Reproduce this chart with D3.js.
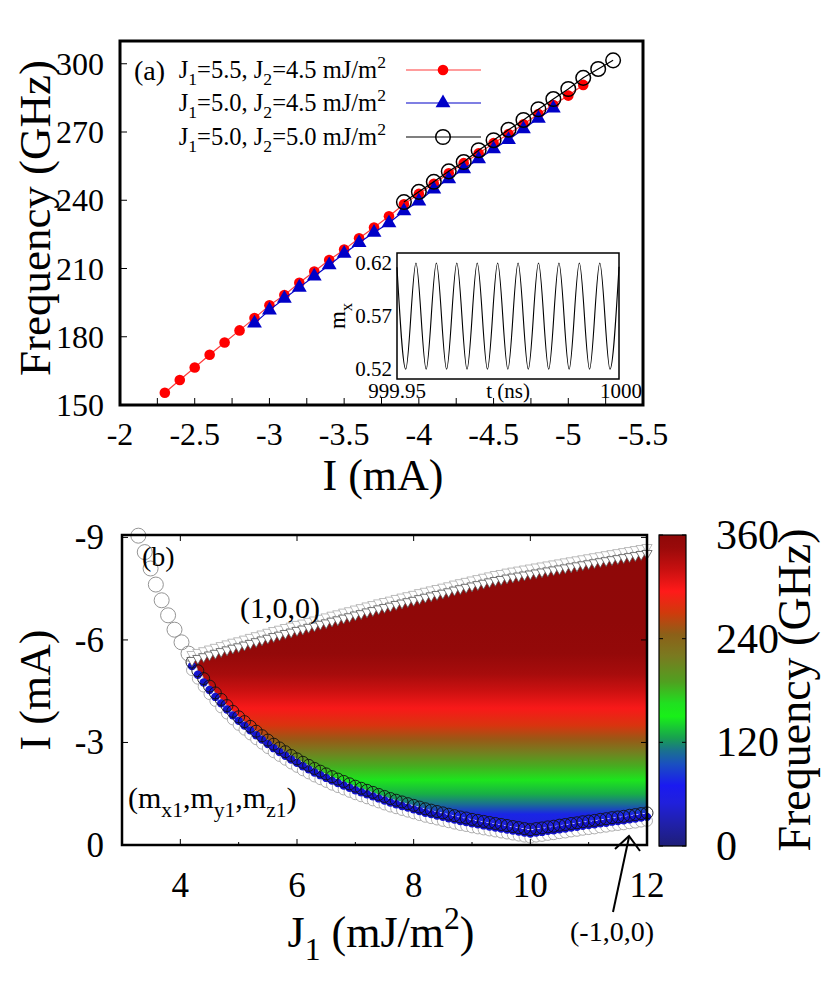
<!DOCTYPE html>
<html><head><meta charset="utf-8">
<script src="https://cdn.jsdelivr.net/npm/d3@7"></script>
<style>body{margin:0;background:#fff}svg{display:block}text{font-family:"Liberation Serif","Times New Roman",serif;fill:#000}</style>
</head><body><svg id="c" width="830" height="995"></svg>
<script>
// ---------- Panel (a) data ----------
const redI = [-2.3,-2.4,-2.5,-2.6,-2.7,-2.8,-2.9,-3.0,-3.1,-3.2,-3.3,-3.4,-3.5,-3.6,-3.7,-3.8,-3.9,-4.0,-4.1,-4.2,-4.3,-4.4,-4.5,-4.6,-4.7,-4.8,-4.9,-5.0,-5.1];
const redF = [155.4,161.0,166.5,172.1,177.5,182.8,188.2,193.8,198.3,203.7,208.7,213.7,218.3,223.3,228.0,233.0,238.2,242.8,247.2,251.9,256.3,260.6,265.1,269.1,273.4,277.9,281.9,286.0,290.7];
const blueI = [-2.9,-3.0,-3.1,-3.2,-3.3,-3.4,-3.5,-3.6,-3.7,-3.8,-3.9,-4.0,-4.1,-4.2,-4.3,-4.4,-4.5,-4.6,-4.7,-4.8,-4.9];
const blueF = [185.9,191.7,196.8,201.7,206.6,211.5,216.6,221.3,225.8,230.0,235.3,239.6,244.9,249.3,253.7,258.1,262.5,266.6,271.3,276.0,280.4];
const blackI = [-3.9,-4.0,-4.1,-4.2,-4.3,-4.4,-4.5,-4.6,-4.7,-4.8,-4.9,-5.0,-5.1,-5.2,-5.3];
const blackF = [239.2,243.7,248.1,252.7,256.8,262.0,266.4,271.0,275.3,280.0,284.5,288.9,293.8,297.7,301.5];
const xTicksA = [-2,-2.25,-2.5,-2.75,-3,-3.25,-3.5,-3.75,-4,-4.25,-4.5,-4.75,-5,-5.25,-5.5];
const xLabelsA = ["-2","-2.5","-3","-3.5","-4","-4.5","-5","-5.5"];
const yLabelsA = [150,180,210,240,270,300];
// inset: time offset (ps after 999.95 ns) and m_x
const insetT = [0,1.97,4.27,6.57,8.87,11.17,13.47,15.77,18.07,20.37,22.67,24.97,27.27,29.57,31.87,34.17,36.47,38.77,41.07,43.37,45.67,47.97,50];
const insetM = [0.616,0.52,0.62,0.52,0.62,0.52,0.62,0.52,0.62,0.52,0.62,0.52,0.62,0.52,0.62,0.52,0.62,0.52,0.62,0.52,0.62,0.52,0.6165];
const insetYLabels = ["0.52","0.57","0.62"];
const insetXLabels = ["999.95","1000"];

// ---------- Panel (b) data ----------
const bJ = [4.2,4.3,4.4,4.5,4.6,4.7,4.8,4.9,5.0,5.1,5.2,5.3,5.4,5.5,5.6,5.7,5.8,5.9,6.0,6.1,6.2,6.3,6.4,6.5,6.6,6.7,6.8,6.9,7.0,7.1,7.2,7.3,7.4,7.5,7.6,7.7,7.8,7.9,8.0,8.1,8.2,8.3,8.4,8.5,8.6,8.7,8.8,8.9,9.0,9.1,9.2,9.3,9.4,9.5,9.6,9.7,9.8,9.9,10.0,10.1,10.2,10.3,10.4,10.5,10.6,10.7,10.8,10.9,11.0,11.1,11.2,11.3,11.4,11.5,11.6,11.7,11.8,11.9,12.0];
const lowerI = [-5.35,-5.1,-4.87,-4.65,-4.45,-4.26,-4.08,-3.91,-3.75,-3.61,-3.47,-3.33,-3.20,-3.07,-2.95,-2.84,-2.73,-2.62,-2.52,-2.42,-2.33,-2.24,-2.16,-2.08,-2.00,-1.93,-1.86,-1.79,-1.72,-1.66,-1.60,-1.54,-1.48,-1.42,-1.36,-1.31,-1.26,-1.21,-1.16,-1.11,-1.06,-1.02,-0.98,-0.94,-0.90,-0.86,-0.82,-0.79,-0.75,-0.72,-0.69,-0.66,-0.63,-0.60,-0.57,-0.54,-0.51,-0.48,-0.45,-0.48,-0.50,-0.53,-0.55,-0.58,-0.60,-0.63,-0.65,-0.68,-0.70,-0.72,-0.75,-0.77,-0.80,-0.82,-0.84,-0.87,-0.89,-0.92,-0.94];
const upperI = [-5.40,-5.46,-5.51,-5.56,-5.61,-5.66,-5.71,-5.76,-5.80,-5.85,-5.90,-5.95,-6.00,-6.05,-6.10,-6.14,-6.19,-6.23,-6.28,-6.32,-6.37,-6.41,-6.46,-6.50,-6.55,-6.59,-6.64,-6.68,-6.73,-6.77,-6.82,-6.86,-6.91,-6.95,-6.99,-7.04,-7.08,-7.12,-7.16,-7.21,-7.25,-7.29,-7.33,-7.37,-7.41,-7.46,-7.50,-7.54,-7.58,-7.62,-7.66,-7.70,-7.74,-7.77,-7.81,-7.84,-7.87,-7.90,-7.93,-7.96,-7.99,-8.02,-8.05,-8.08,-8.11,-8.14,-8.17,-8.20,-8.23,-8.26,-8.29,-8.32,-8.35,-8.38,-8.41,-8.44,-8.47,-8.50,-8.53];
const chainJ = [3.28,3.39,3.49,3.58,3.68,3.79,3.90,4.02,4.14];
const chainI = [-9.05,-8.57,-8.09,-7.62,-7.16,-6.72,-6.30,-5.93,-5.60];
const heatI = [-9.07,-6.5,-5.6,-5.0,-4.5,-4.0,-3.5,-3.1,-2.7,-2.3,-1.9,-1.5,-1.2,-0.9,-0.5,0];
const heatF = [360,358,352,338,318,298,275,250,215,185,160,130,110,75,50,30];
// colour palette
const cmapV = [0,25,50,70,95,110,125,150,165,190,220,245,270,295,320,345,360];
const cmapC = ["#1e1e78","#2020a8","#2020dc","#1a1af0","#1a50c0","#1a7090","#18a050","#18f018","#20e020","#50a020","#7a7a20","#8c6018","#d03a0c","#ff1a1a","#c81010","#9a0a0a","#8e0808"];
const xTicksB = [4,6,8,10,12];
const xMinorB = [3,5,7,9,11];
const yTicksB = [0,-3,-6,-9];
const cbTicks = [0,120,240,360];

const svg = d3.select("#c");
function rich(g, x, y, parts, fs, anchor, rot){
  const t = g.append("text").attr("x",x).attr("y",y).attr("font-size",fs).attr("text-anchor",anchor||"start");
  if(rot) t.attr("transform",`rotate(${rot},${x},${y})`);
  let cur=0;
  parts.forEach(p=>{
    const s=p[0], m=p[1];
    const target = m==="sub"?0.3*fs:(m==="sup"?-0.4*fs:0);
    const ts=t.append("tspan").text(s).attr("dy",target-cur);
    if(m) ts.attr("font-size",0.72*fs);
    cur=target;
  });
  return t;
}

// ================= Panel (a) =================
const xA = d3.scaleLinear([-2,-5.5],[120,643]);
const yA = d3.scaleLinear([150,310],[405,41]);
const gA = svg.append("g");

gA.selectAll(".xt").data(xTicksA).join("line").attr("x1",d=>xA(d)).attr("x2",d=>xA(d)).attr("y1",405).attr("y2",398).attr("stroke","#000").attr("stroke-width",1);
gA.selectAll(".yt").data(yLabelsA).join("line").attr("x1",120).attr("x2",127).attr("y1",d=>yA(d)).attr("y2",d=>yA(d)).attr("stroke","#000").attr("stroke-width",1);
gA.selectAll(".xl").data(xLabelsA).join("text").attr("x",d=>xA(+d)).attr("y",445).attr("text-anchor","middle").attr("font-size",32).text(d=>d);
gA.selectAll(".yl").data(yLabelsA).join("text").attr("x",104).attr("y",d=>yA(d)+11).attr("text-anchor","end").attr("font-size",32).text(d=>d);
gA.append("text").attr("x",383).attr("y",490).attr("text-anchor","middle").attr("font-size",44).text("I (mA)");
gA.append("text").attr("transform","translate(50,218) rotate(-90)").attr("text-anchor","middle").attr("font-size",45).text("Frequency (GHz)");

// inset
const ix = d3.scaleLinear([0,50],[397,619]);
const iy = d3.scaleLinear([0.5108,0.6294],[379,253]);
gA.append("rect").attr("x",397).attr("y",253).attr("width",222).attr("height",126).attr("fill","#fff").attr("stroke","#000").attr("stroke-width",1.5);
gA.append("path").datum(insetT.map((t,i)=>[t,insetM[i]])).attr("fill","none").attr("stroke","#000").attr("stroke-width",1.1)
  .attr("d",d3.line().x(d=>ix(d[0])).y(d=>iy(d[1])).curve(d3.curveMonotoneX));
gA.selectAll(".iyl").data(insetYLabels).join("text").attr("x",392).attr("y",d=>iy(+d)+7).attr("text-anchor","end").attr("font-size",21).text(d=>d);
gA.selectAll(".ixl").data(insetXLabels).join("text").attr("x",(d,i)=>ix(i*50)+(i?2:0)).attr("y",398).attr("text-anchor","middle").attr("font-size",21).text(d=>d);
gA.append("text").attr("x",508).attr("y",398).attr("text-anchor","middle").attr("font-size",21).text("t (ns)");
rich(gA,345,316,[["m"],["x","sub"]],23,"middle",-90);

// series
const line = d3.line().x(d=>xA(d[0])).y(d=>yA(d[1]));
const red = redI.map((v,i)=>[v,redF[i]]), blue = blueI.map((v,i)=>[v,blueF[i]]), blk = blackI.map((v,i)=>[v,blackF[i]]);
gA.append("path").datum(red).attr("d",line).attr("fill","none").attr("stroke","#ff3a3a").attr("stroke-width",1.2);
gA.selectAll(".rp").data(red).join("circle").attr("cx",d=>xA(d[0])).attr("cy",d=>yA(d[1])).attr("r",5.3).attr("fill","#ff0000");
gA.append("path").datum(blue).attr("d",line).attr("fill","none").attr("stroke","#0000c8").attr("stroke-width",1.2);
const tri = d3.symbol().type(d3.symbolTriangle).size(95);
gA.selectAll(".bp").data(blue).join("path").attr("d",tri).attr("transform",d=>`translate(${xA(d[0])},${yA(d[1])})`).attr("fill","#0000c8");
gA.append("path").datum(blk).attr("d",line).attr("fill","none").attr("stroke","#000").attr("stroke-width",1.2);
gA.selectAll(".kp").data(blk).join("circle").attr("cx",d=>xA(d[0])).attr("cy",d=>yA(d[1])).attr("r",7.3).attr("fill","none").attr("stroke","#000").attr("stroke-width",1.5);

// legend
gA.append("text").attr("x",134).attr("y",80).attr("font-size",28).text("(a)");
const legRows = [
  {y:70, j1:"5.5", j2:"4.5", kind:"red"},
  {y:103, j1:"5.0", j2:"4.5", kind:"blue"},
  {y:137, j1:"5.0", j2:"5.0", kind:"black"}];
legRows.forEach(r=>{
  rich(gA,386,r.y+8,[["J"],["1","sub"],["="+r.j1+", J"],["2","sub"],["="+r.j2+" mJ/m"],["2","sup"]],24.5,"end");
  const col = r.kind==="red"?"#ff3a3a":(r.kind==="blue"?"#0000c8":"#000");
  gA.append("line").attr("x1",406).attr("x2",481).attr("y1",r.y).attr("y2",r.y).attr("stroke",col).attr("stroke-width",1.2);
  if(r.kind==="red") gA.append("circle").attr("cx",443).attr("cy",r.y).attr("r",5.3).attr("fill","#ff0000");
  if(r.kind==="blue") gA.append("path").attr("d",tri).attr("transform",`translate(443,${r.y})`).attr("fill","#0000c8");
  if(r.kind==="black") gA.append("circle").attr("cx",443).attr("cy",r.y).attr("r",7.3).attr("fill","none").attr("stroke","#000").attr("stroke-width",1.5);
});
gA.append("rect").attr("x",120).attr("y",41).attr("width",523).attr("height",364).attr("fill","none").attr("stroke","#000").attr("stroke-width",3);

// ================= Panel (b) =================
const xB = d3.scaleLinear([3,12],[122,647]);
const yB = d3.scaleLinear([0,-9.07],[845,535]);
const color = d3.scaleLinear().domain(cmapV).range(cmapC).interpolate(d3.interpolateRgb);
const gB = svg.append("g");
const defs = svg.append("defs");
const hg = defs.append("linearGradient").attr("id","heat").attr("gradientUnits","userSpaceOnUse").attr("x1",0).attr("x2",0).attr("y1",yB(-9.07)).attr("y2",yB(0));
heatI.forEach((v,i)=>hg.append("stop").attr("offset",(yB(v)-yB(-9.07))/(yB(0)-yB(-9.07))).attr("stop-color",color(heatF[i])));
const region = bJ.map((j,i)=>({j, lo:lowerI[i], up:upperI[i]}));
gB.append("path").datum(region).attr("fill","url(#heat)")
  .attr("d",d3.area().x(d=>xB(d.j)).y0(d=>yB(d.lo)).y1(d=>yB(d.up)));

// lower boundary markers
gB.selectAll(".lg").data(region).join("circle").attr("cx",d=>xB(d.j)).attr("cy",d=>yB(d.lo)+8).attr("r",5.5).attr("fill","#fff").attr("stroke","#999").attr("stroke-width",0.8);
gB.selectAll(".lb").data(region).join("circle").attr("cx",d=>xB(d.j)).attr("cy",d=>yB(d.lo)+4).attr("r",4.2).attr("fill","#1414d0");
gB.selectAll(".lk").data(region).join("circle").attr("cx",d=>xB(d.j)).attr("cy",d=>yB(d.lo)).attr("r",6).attr("fill","none").attr("stroke","#111").attr("stroke-width",0.9);
// left chain
gB.selectAll(".ch").data(chainJ.map((j,i)=>[j,chainI[i]])).join("circle").attr("cx",d=>xB(d[0])).attr("cy",d=>yB(d[1])).attr("r",7.5).attr("fill","none").attr("stroke","#888").attr("stroke-width",0.9);
// upper boundary triangles (two rows)
const dtri = d3.symbol().type(d3.symbolTriangle).size(45);
gB.selectAll(".ut2").data(region).join("path").attr("d",dtri).attr("transform",d=>`translate(${xB(d.j)},${yB(d.up)-6}) rotate(180)`).attr("fill","#fff").attr("stroke","#aaa").attr("stroke-width",0.8);
gB.selectAll(".ut").data(region).join("path").attr("d",dtri).attr("transform",d=>`translate(${xB(d.j)},${yB(d.up)}) rotate(180)`).attr("fill","#fff").attr("stroke","#555").attr("stroke-width",0.8);

// ticks
gB.selectAll(".bxt").data(xTicksB).join("line").attr("x1",d=>xB(d)).attr("x2",d=>xB(d)).attr("y1",845).attr("y2",839).attr("stroke","#000");
gB.selectAll(".bxt2").data(xTicksB).join("line").attr("x1",d=>xB(d)).attr("x2",d=>xB(d)).attr("y1",535).attr("y2",541).attr("stroke","#000");
gB.selectAll(".bxm").data(xMinorB).join("line").attr("x1",d=>xB(d)).attr("x2",d=>xB(d)).attr("y1",845).attr("y2",842).attr("stroke","#000");
gB.selectAll(".byt").data(yTicksB).join("line").attr("x1",122).attr("x2",128).attr("y1",d=>yB(d)).attr("y2",d=>yB(d)).attr("stroke","#000");
gB.selectAll(".byt2").data(yTicksB).join("line").attr("x1",647).attr("x2",641).attr("y1",d=>yB(d)).attr("y2",d=>yB(d)).attr("stroke","#000");
gB.selectAll(".bxl").data(xTicksB).join("text").attr("x",d=>xB(d)).attr("y",897).attr("text-anchor","middle").attr("font-size",35).text(d=>d);
gB.selectAll(".byl").data(yTicksB).join("text").attr("x",104).attr("y",d=>yB(d)+12).attr("text-anchor","end").attr("font-size",35).text(d=>d===0?"0":String(d));
rich(gB,381,947,[["J"],["1","sub"],[" (mJ/m"],["2","sup"],[")"]],44,"middle");
gB.append("text").attr("transform","translate(50,690) rotate(-90)").attr("text-anchor","middle").attr("font-size",44).text("I (mA)");
gB.append("rect").attr("x",122).attr("y",535).attr("width",525).attr("height",310).attr("fill","none").attr("stroke","#000").attr("stroke-width",2.5);

// annotations
gB.append("text").attr("x",142).attr("y",566).attr("font-size",28).text("(b)");
gB.append("text").attr("x",280).attr("y",618).attr("text-anchor","middle").attr("font-size",30).text("(1,0,0)");
rich(gB,128,808,[["(m"],["x1","sub"],[",m"],["y1","sub"],[",m"],["z1","sub"],[")"]],30,"start");
gB.append("text").attr("x",612).attr("y",941).attr("text-anchor","middle").attr("font-size",28).text("(-1,0,0)");
gB.append("line").attr("x1",613).attr("y1",912).attr("x2",629).attr("y2",837).attr("stroke","#000").attr("stroke-width",2);
gB.append("path").attr("d","M615,849 L629,836 L640,851").attr("fill","none").attr("stroke","#000").attr("stroke-width",2);

// colorbar
const cy = d3.scaleLinear([0,360],[846,535]);
const cg = defs.append("linearGradient").attr("id","cbar").attr("gradientUnits","userSpaceOnUse").attr("x1",0).attr("x2",0).attr("y1",cy(0)).attr("y2",cy(360));
cmapV.forEach((v,i)=>cg.append("stop").attr("offset",v/360).attr("stop-color",cmapC[i]));
gB.append("rect").attr("x",659).attr("y",535).attr("width",27).attr("height",311).attr("fill","url(#cbar)").attr("stroke","#000").attr("stroke-width",1.2);
gB.selectAll(".cbt").data(cbTicks).join("line").attr("x1",659).attr("x2",663).attr("y1",d=>cy(d)).attr("y2",d=>cy(d)).attr("stroke","#000");
gB.selectAll(".cbt2").data(cbTicks).join("line").attr("x1",686).attr("x2",682).attr("y1",d=>cy(d)).attr("y2",d=>cy(d)).attr("stroke","#000");
gB.selectAll(".cbl").data(cbTicks).join("text").attr("x",716).attr("y",d=>cy(d)+14).attr("font-size",42).text(d=>d);
gB.append("text").attr("transform","translate(810,690) rotate(-90)").attr("text-anchor","middle").attr("font-size",46).text("Frequency (GHz)");
</script></body></html>
